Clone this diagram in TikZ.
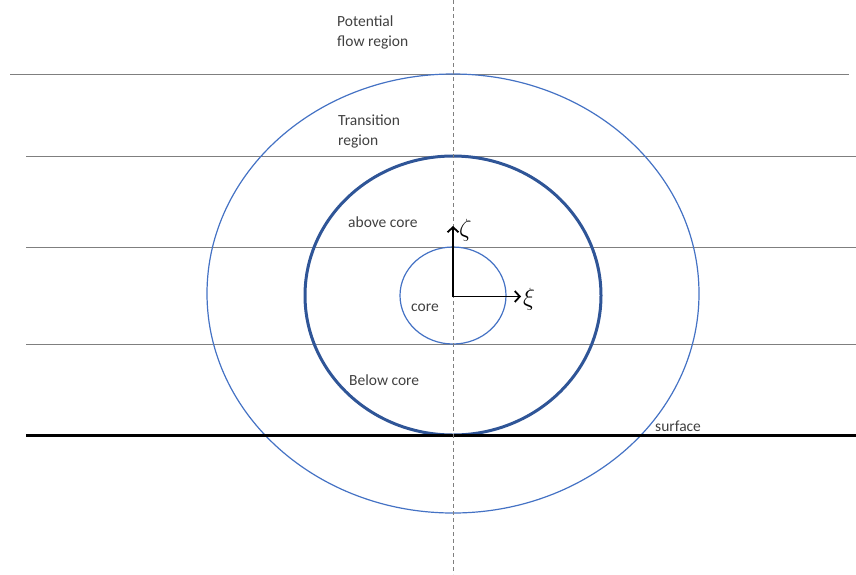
\documentclass[tikz,border=0pt]{standalone}
\usepackage{fontspec}
\setmainfont{Carlito}
\usetikzlibrary{arrows.meta}
\definecolor{lblue}{HTML}{4472C4}
\definecolor{dblue}{HTML}{2F5597}
\definecolor{lgray}{HTML}{7F7F7F}
\definecolor{tgray}{HTML}{404040}
\tikzset{
  hline/.style={draw=lgray, line width=1pt},
  lbl/.style={anchor=west, inner sep=0pt, font=\fontsize{15.5}{20}\selectfont, text=tgray, align=left},
  axis/.style={line width=1.8pt, -{Straight Barb[length=5pt,width=11pt]}},
}
\begin{document}
\begin{tikzpicture}[x=1pt,y=-1pt]
\useasboundingbox (0,0) rectangle (856,574);
% horizontal lines
\draw[hline] (10,74) -- (849,74);
\draw[hline] (26,156) -- (856,156);
\draw[hline] (26,247) -- (856,247);
\draw[hline] (26,344) -- (856,344);
% ellipses
\draw[lblue, line width=1.2pt] (453,293.5) ellipse [x radius=246, y radius=219.5];
\draw[dblue, line width=3pt] (453,295.5) ellipse [x radius=148, y radius=139.5];
\draw[lblue, line width=1.2pt] (453,295.5) ellipse [x radius=53, y radius=48.5];
% surface
\draw[black, line width=3pt] (26,435) -- (856,435);
% dashed axis
\draw[lgray, dashed, dash pattern=on 4pt off 3pt, line width=0.9pt] (453,0) -- (453,574);
% axes
\coordinate (o) at (453,296.5);
\coordinate (zt) at (453,226);
\coordinate (xt) at (521,296.5);
\draw[axis] (o) -- (zt);
\draw[axis] (o) -- (xt);
\node[anchor=west, inner sep=0pt, font=\fontsize{26}{26}\selectfont] (zeta) at (459,230) {$\zeta$};
\node[anchor=west, inner sep=0pt, font=\fontsize{26}{26}\selectfont] (xi) at (523,299) {$\xi$};
% labels
\node[lbl] (pot) at (337,32) {Potential\\flow region};
\node[lbl] (tra) at (338,131) {Transition\\region};
\node[lbl] (abv) at (348,222) {above core};
\node[lbl] (cor) at (411,308) {core};
\node[lbl] (blw) at (349,380) {Below core};
\node[lbl] (sur) at (655,426) {surface};
\end{tikzpicture}
\end{document}
